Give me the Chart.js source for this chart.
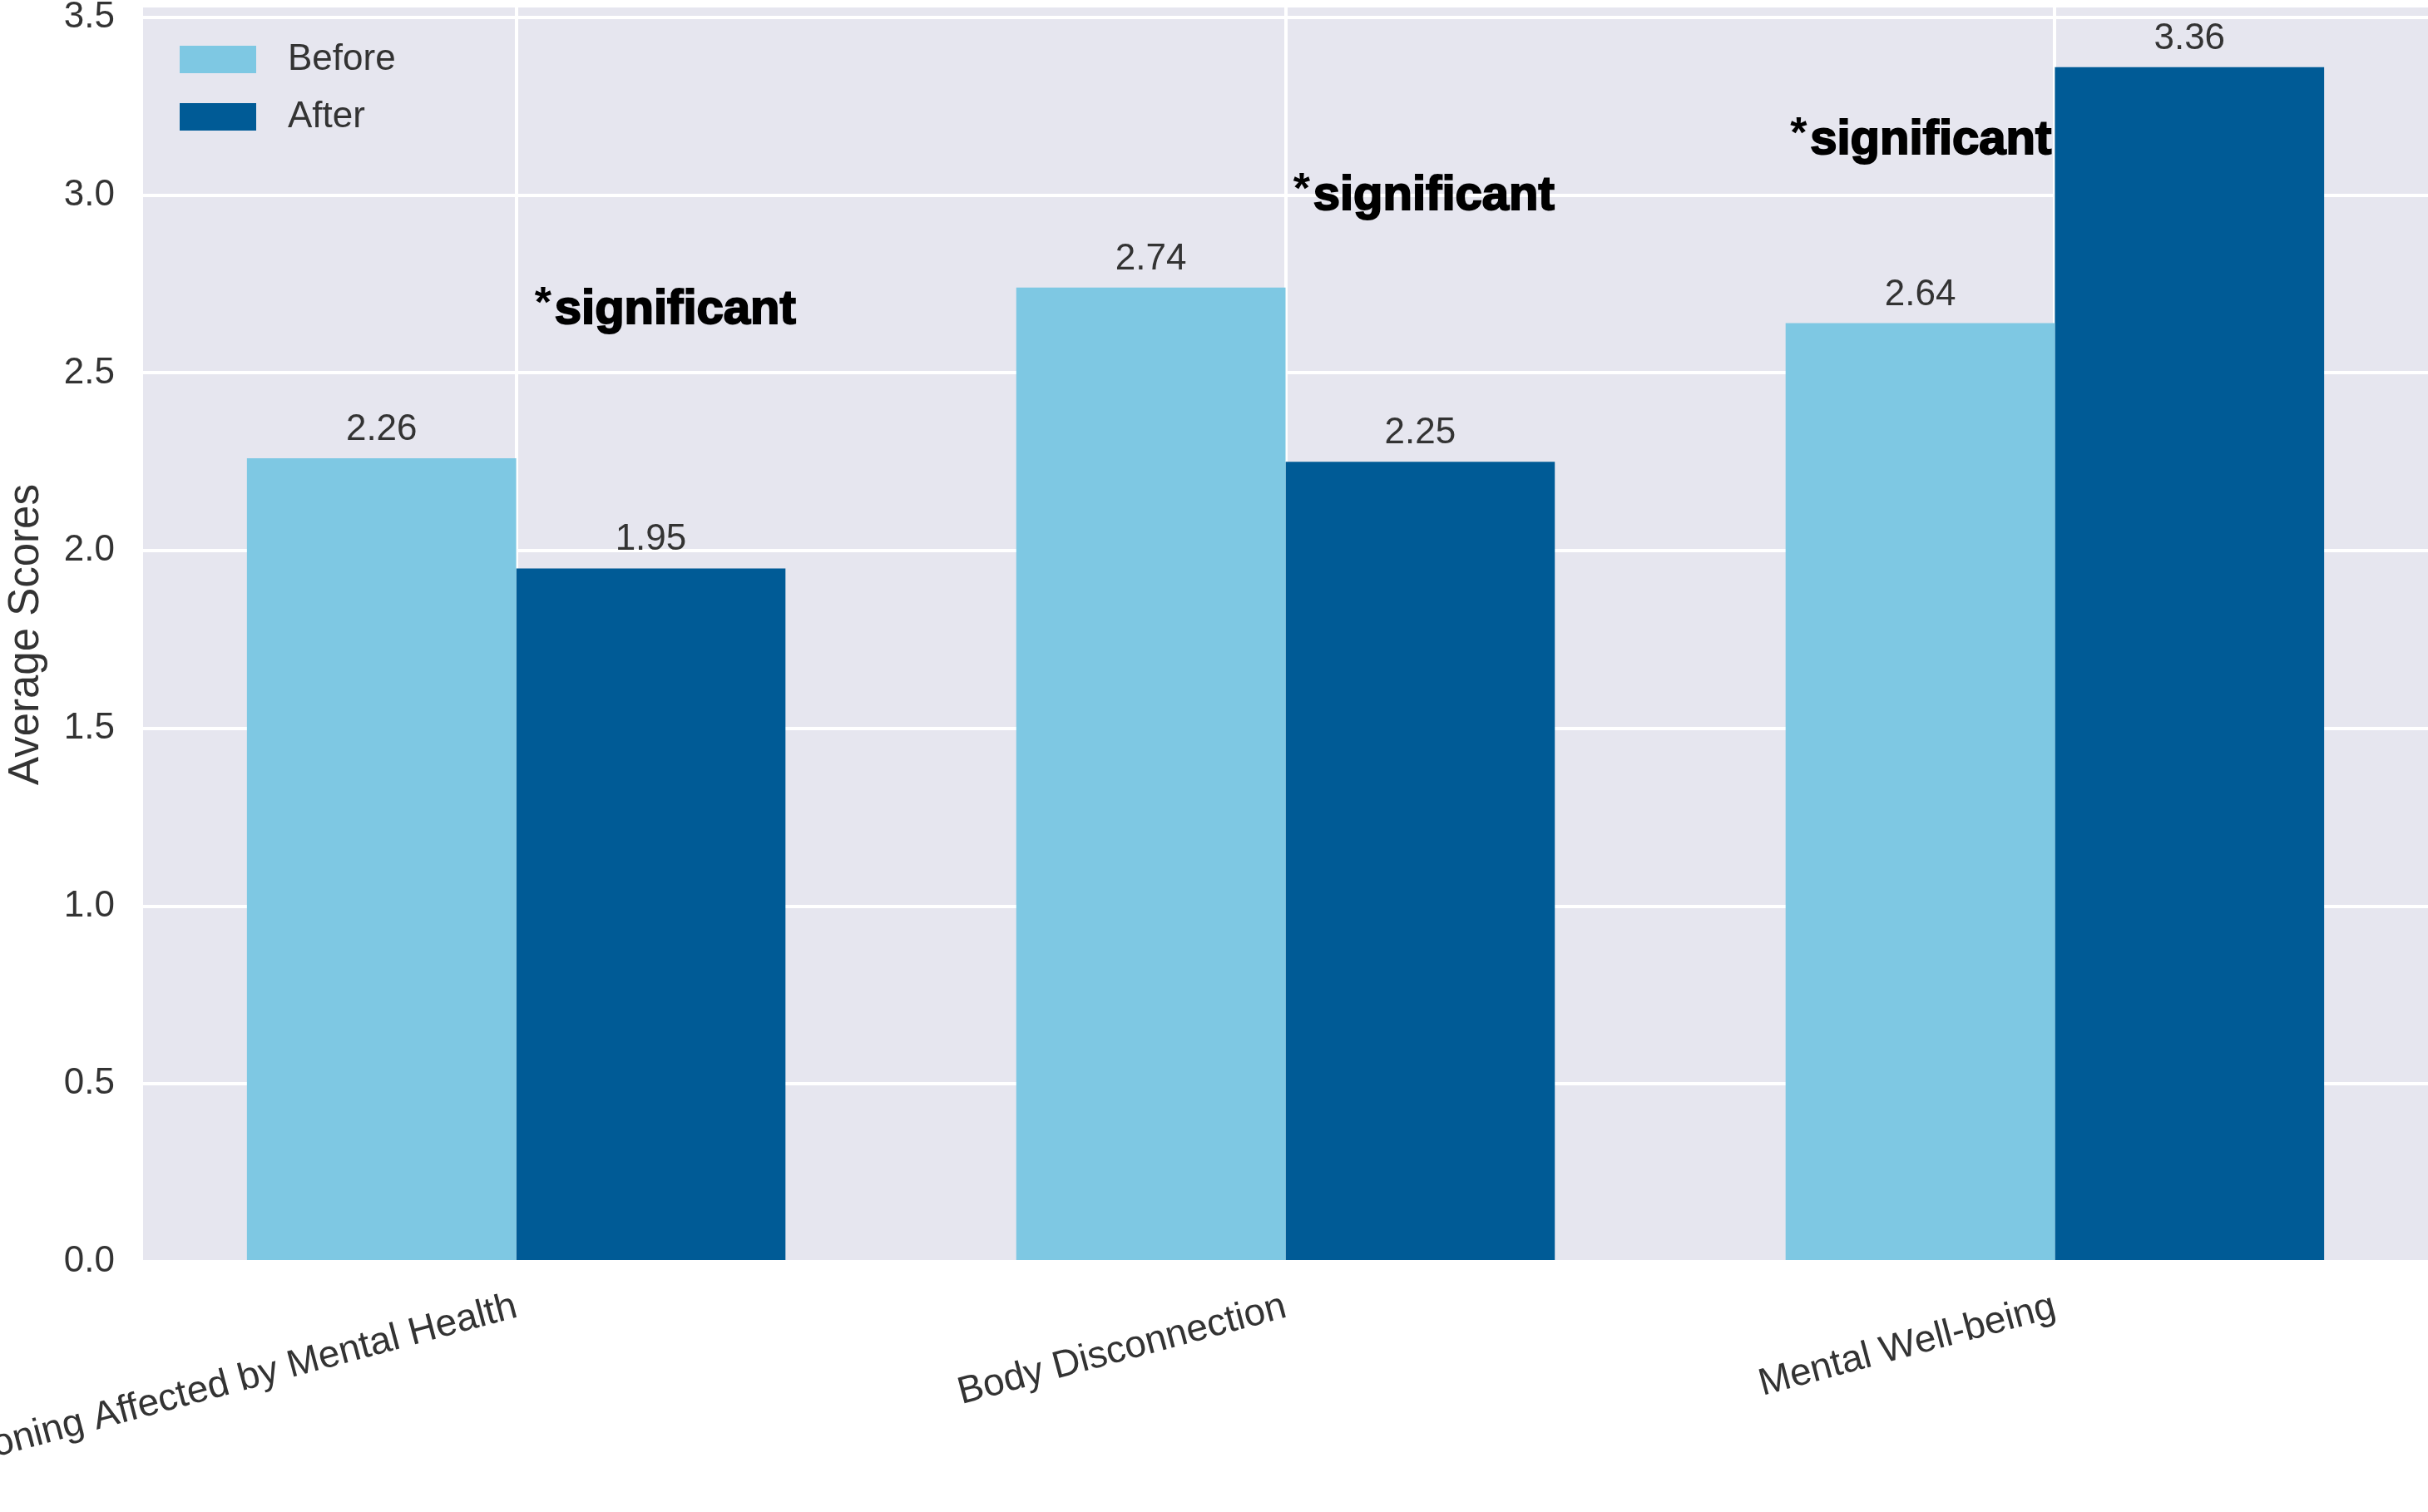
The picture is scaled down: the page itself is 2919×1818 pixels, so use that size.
<!DOCTYPE html>
<html><head><meta charset="utf-8">
<script src="https://cdn.jsdelivr.net/npm/chart.js@4.4.1/dist/chart.umd.min.js"></script>
<style>html,body{margin:0;padding:0;background:#fff;overflow:hidden}canvas{display:block}</style>
</head><body>
<canvas id="c" width="2919" height="1818" style="width:2919px;height:1818px"></canvas>
<script>
// ---- data ----
const categories = ['Daily Functioning Affected by Mental Health', 'Body Disconnection', 'Mental Well-being'];
const seriesNames = ['Before', 'After'];
const beforeScores = [2.26, 2.74, 2.64];
const afterScores = [1.95, 2.25, 3.36];
const yTickStep = 0.5;
const yAxisMax = 3.528;
const noteText = ['*', 'significant'];
const noteX = [0.024, 1.010, 1.656];
const noteY = [2.639, 2.960, 3.117];

// ---- styles ----
const FONT = '"Liberation Sans", Arial, sans-serif';
const TEXT = '#333333';
const colors = ['#7EC8E3', '#005B96'];

const bgPlugin = {
  id: 'bg',
  beforeDraw(chart) {
    const a = chart.chartArea, ctx = chart.ctx;
    ctx.save();
    ctx.fillStyle = '#E6E6EF';
    ctx.fillRect(a.left, a.top, a.right - a.left, a.bottom - a.top);
    ctx.restore();
  }
};

const overlayPlugin = {
  id: 'overlay',
  afterDatasetsDraw(chart) {
    const ctx = chart.ctx;
    const xs = chart.scales.x, ys = chart.scales.y;
    ctx.save();
    // value labels
    ctx.font = '44px ' + FONT;
    ctx.fillStyle = TEXT;
    ctx.textAlign = 'center';
    ctx.textBaseline = 'alphabetic';
    chart.data.datasets.forEach((ds, di) => {
      const meta = chart.getDatasetMeta(di);
      meta.data.forEach((el, i) => {
        ctx.fillText(ds.data[i].y.toFixed(2), el.x, el.y - 22);
      });
    });
    // significance notes
    ctx.fillStyle = '#000';
    ctx.strokeStyle = '#000';
    ctx.lineWidth = 2;
    ctx.textAlign = 'left';
    noteX.forEach((nx, i) => {
      const px = xs.getPixelForValue(nx);
      const py = ys.getPixelForValue(noteY[i]);
      ctx.font = 'bold 52px ' + FONT;
      ctx.fillText(noteText[0], px, py - 8);
      ctx.font = 'bold 58px ' + FONT;
      ctx.fillText(noteText[1], px + 24, py);
      ctx.strokeText(noteText[1], px + 24, py);
    });
    // legend
    ctx.font = '44px ' + FONT;
    ctx.textBaseline = 'middle';
    chart.data.datasets.forEach((ds, di) => {
      const y0 = 55 + di * 69;
      ctx.fillStyle = ds.backgroundColor;
      ctx.fillRect(216, y0, 92, 33);
      ctx.fillStyle = TEXT;
      ctx.fillText(ds.label, 346, y0 + 17);
    });
    ctx.restore();
  }
};

const toPoints = arr => arr.map((v, i) => ({ x: i, y: v }));

new Chart(document.getElementById('c'), {
  type: 'bar',
  data: {
    datasets: [
      { label: seriesNames[0], data: toPoints(beforeScores), backgroundColor: colors[0], borderWidth: 0, categoryPercentage: 0.7, barPercentage: 1.0 },
      { label: seriesNames[1], data: toPoints(afterScores), backgroundColor: colors[1], borderWidth: 0, categoryPercentage: 0.7, barPercentage: 1.0 }
    ]
  },
  options: {
    responsive: false,
    animation: false,
    devicePixelRatio: 1,
    layout: { padding: { top: 9, left: 0, right: 0, bottom: 0 }, autoPadding: false },
    plugins: { legend: { display: false }, tooltip: { enabled: false } },
    scales: {
      x: {
        type: 'linear',
        min: -0.485,
        max: 2.485,
        offset: false,
        grid: { color: '#FFFFFF', lineWidth: 4, drawTicks: false, offset: false },
        border: { display: false },
        ticks: {
          stepSize: 1, includeBounds: false, autoSkip: false,
          minRotation: 15, maxRotation: 15, padding: 27,
          color: TEXT, font: { family: FONT, size: 46 },
          callback: v => (Number.isInteger(v) && categories[v] !== undefined) ? categories[v] : ''
        },
        afterFit: s => { s.height = 301; s.paddingLeft = 0; s.paddingRight = 0; }
      },
      y: {
        min: 0,
        max: yAxisMax,
        grid: { color: '#FFFFFF', lineWidth: 4, drawTicks: false },
        border: { display: false },
        ticks: {
          stepSize: yTickStep, includeBounds: false, padding: 34,
          color: TEXT, font: { family: FONT, size: 44 },
          callback: v => v.toFixed(1)
        },
        title: { display: true, text: 'Average Scores', color: TEXT, font: { family: FONT, size: 51 }, padding: { top: 1, bottom: 0 } },
        afterFit: s => { s.width = 172; s.paddingTop = 0; s.paddingBottom = 0; }
      }
    }
  },
  plugins: [bgPlugin, overlayPlugin]
});
</script>
</body></html>
